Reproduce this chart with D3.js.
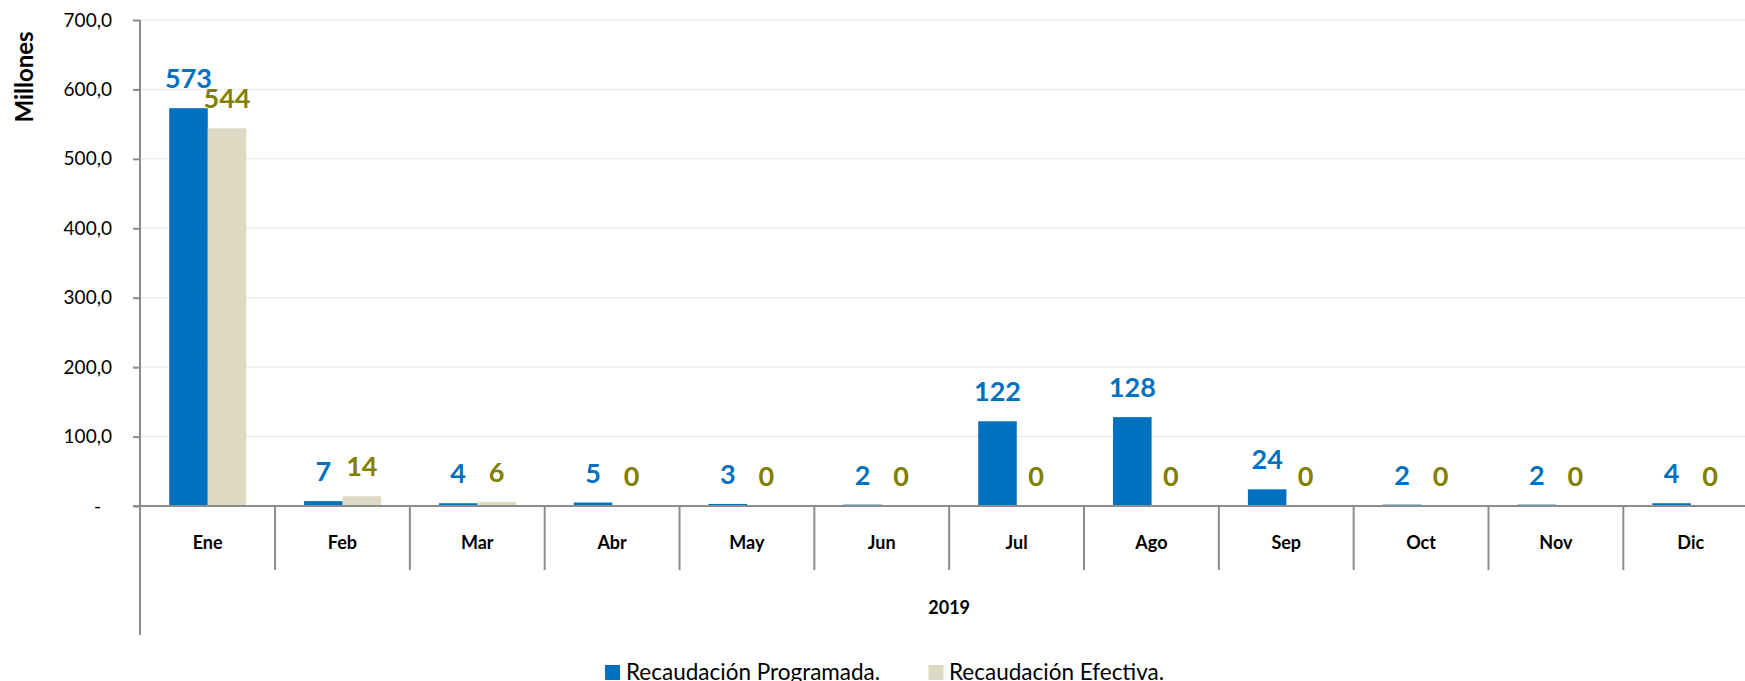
<!DOCTYPE html>
<html>
<head>
<meta charset="utf-8">
<script src="https://cdn.jsdelivr.net/npm/d3@7"></script>
<style>
  html, body { margin: 0; padding: 0; background: #fff; }
  svg { display: block; font-family: Lato, "Open Sans", sans-serif; }
</style>
</head>
<body>
<svg id="chart" width="1745" height="681"></svg>
<script>
const categories = ["Ene", "Feb", "Mar", "Abr", "May", "Jun", "Jul", "Ago", "Sep", "Oct", "Nov", "Dic"];
const programada = [573, 7, 4, 5, 3, 2, 122, 128, 24, 2, 2, 4];
const efectiva   = [544, 14, 6, 0, 0, 0, 0, 0, 0, 0, 0, 0];
const seriesNames = ["Recaudación Programada.", "Recaudación Efectiva."];
const yTicks = [0, 100, 200, 300, 400, 500, 600, 700];
const yearLabel = "2019";
const yTitle = "Millones";

(function () {
const barColors = ["#0070C0", "#DDD9C3"];
const labelColors = ["#0070C0", "#808000"];
const axisColor = "#8C8C8C";

const svg = d3.select("#chart");
const plotLeft = 140.2, plotTop = 20, zeroY = 506, bandW = 134.83;
const plotRight = plotLeft + categories.length * bandW;

const x0 = d3.scaleBand().domain(categories).range([plotLeft, plotRight]).padding(0);
const x1 = d3.scaleBand().domain([0, 1]).range([0.2154 * x0.bandwidth(), 0.787 * x0.bandwidth()]).padding(0);
const y = d3.scaleLinear().domain([0, 700]).range([zeroY, plotTop]);

const esLocale = d3.formatLocale({decimal: ",", thousands: ".", grouping: [3], currency: ["", ""]});
const fmt = esLocale.format(",.1f");

// gridlines
svg.append("g").selectAll("line").data(yTicks.filter(d => d > 0)).join("line")
  .attr("x1", plotLeft).attr("x2", plotRight)
  .attr("y1", d => y(d)).attr("y2", d => y(d))
  .attr("stroke", "#EDEDED").attr("stroke-width", 1.5);

// bars
const data = categories.map((c, i) => ({c, vals: [programada[i], efectiva[i]]}));
const groups = svg.append("g").selectAll("g").data(data).join("g")
  .attr("transform", d => `translate(${x0(d.c)},0)`);
groups.selectAll("rect").data(d => d.vals.map((v, s) => ({v, s}))).join("rect")
  .attr("x", d => x1(d.s)).attr("width", x1.bandwidth())
  .attr("y", d => y(d.v)).attr("height", d => y(0) - y(d.v))
  .attr("fill", d => barColors[d.s]);

// data labels
groups.selectAll("text").data(d => d.vals.map((v, s) => ({v, s}))).join("text")
  .attr("x", d => x1(d.s) + x1.bandwidth() / 2)
  .attr("y", d => y(d.v) - 20)
  .attr("text-anchor", "middle")
  .attr("font-size", 27).attr("font-weight", "bold")
  .attr("fill", d => labelColors[d.s])
  .text(d => d3.format(".0f")(d.v));

// y axis
const yAxis = svg.append("g").attr("transform", `translate(140,0)`)
  .call(d3.axisLeft(y).tickValues(yTicks).tickSize(7).tickPadding(21)
    .tickFormat(d => d === 0 ? "-\u2007" : fmt(d)));
yAxis.select(".domain").remove();
yAxis.selectAll(".tick line").attr("stroke", axisColor).attr("stroke-width", 2);
yAxis.selectAll(".tick text").attr("font-size", 19).attr("fill", "#000").attr("font-family", "Lato, sans-serif");

// vertical axis line (extends to outer category level)
svg.append("line").attr("x1", 140).attr("x2", 140).attr("y1", plotTop).attr("y2", 635)
  .attr("stroke", axisColor).attr("stroke-width", 2);

// horizontal axis line
svg.append("line").attr("x1", 133).attr("x2", plotRight).attr("y1", zeroY).attr("y2", zeroY)
  .attr("stroke", axisColor).attr("stroke-width", 2);

// category dividers
const bounds = categories.map(c => x0(c)).concat([plotRight]);
svg.append("g").selectAll("line").data(bounds.slice(1)).join("line")
  .attr("x1", d => d).attr("x2", d => d).attr("y1", zeroY).attr("y2", 570)
  .attr("stroke", axisColor).attr("stroke-width", 2);

// category labels
svg.append("g").selectAll("text").data(categories).join("text")
  .attr("x", d => x0(d) + x0.bandwidth() / 2).attr("y", 549)
  .attr("text-anchor", "middle").attr("font-size", 18).attr("font-weight", "bold")
  .text(d => d);

// outer level label
svg.append("text").attr("x", (plotLeft + plotRight) / 2).attr("y", 614)
  .attr("text-anchor", "middle").attr("font-size", 18).attr("font-weight", "bold")
  .text(yearLabel);

// y title
svg.append("text").attr("transform", "translate(33,77) rotate(-90)")
  .attr("text-anchor", "middle").attr("font-size", 24).attr("font-weight", "bold")
  .text(yTitle);

// legend
const legendItems = [{x: 605, tx: 626}, {x: 928.5, tx: 949}];
const lg = svg.append("g");
legendItems.forEach((p, i) => {
  lg.append("rect").attr("x", p.x).attr("y", 665).attr("width", 15).attr("height", 15).attr("fill", barColors[i]);
  lg.append("text").attr("x", p.tx).attr("y", 680)
    .attr("font-size", 22.5).attr("fill", "#000").text(seriesNames[i]);
});
})();
</script>
</body>
</html>
